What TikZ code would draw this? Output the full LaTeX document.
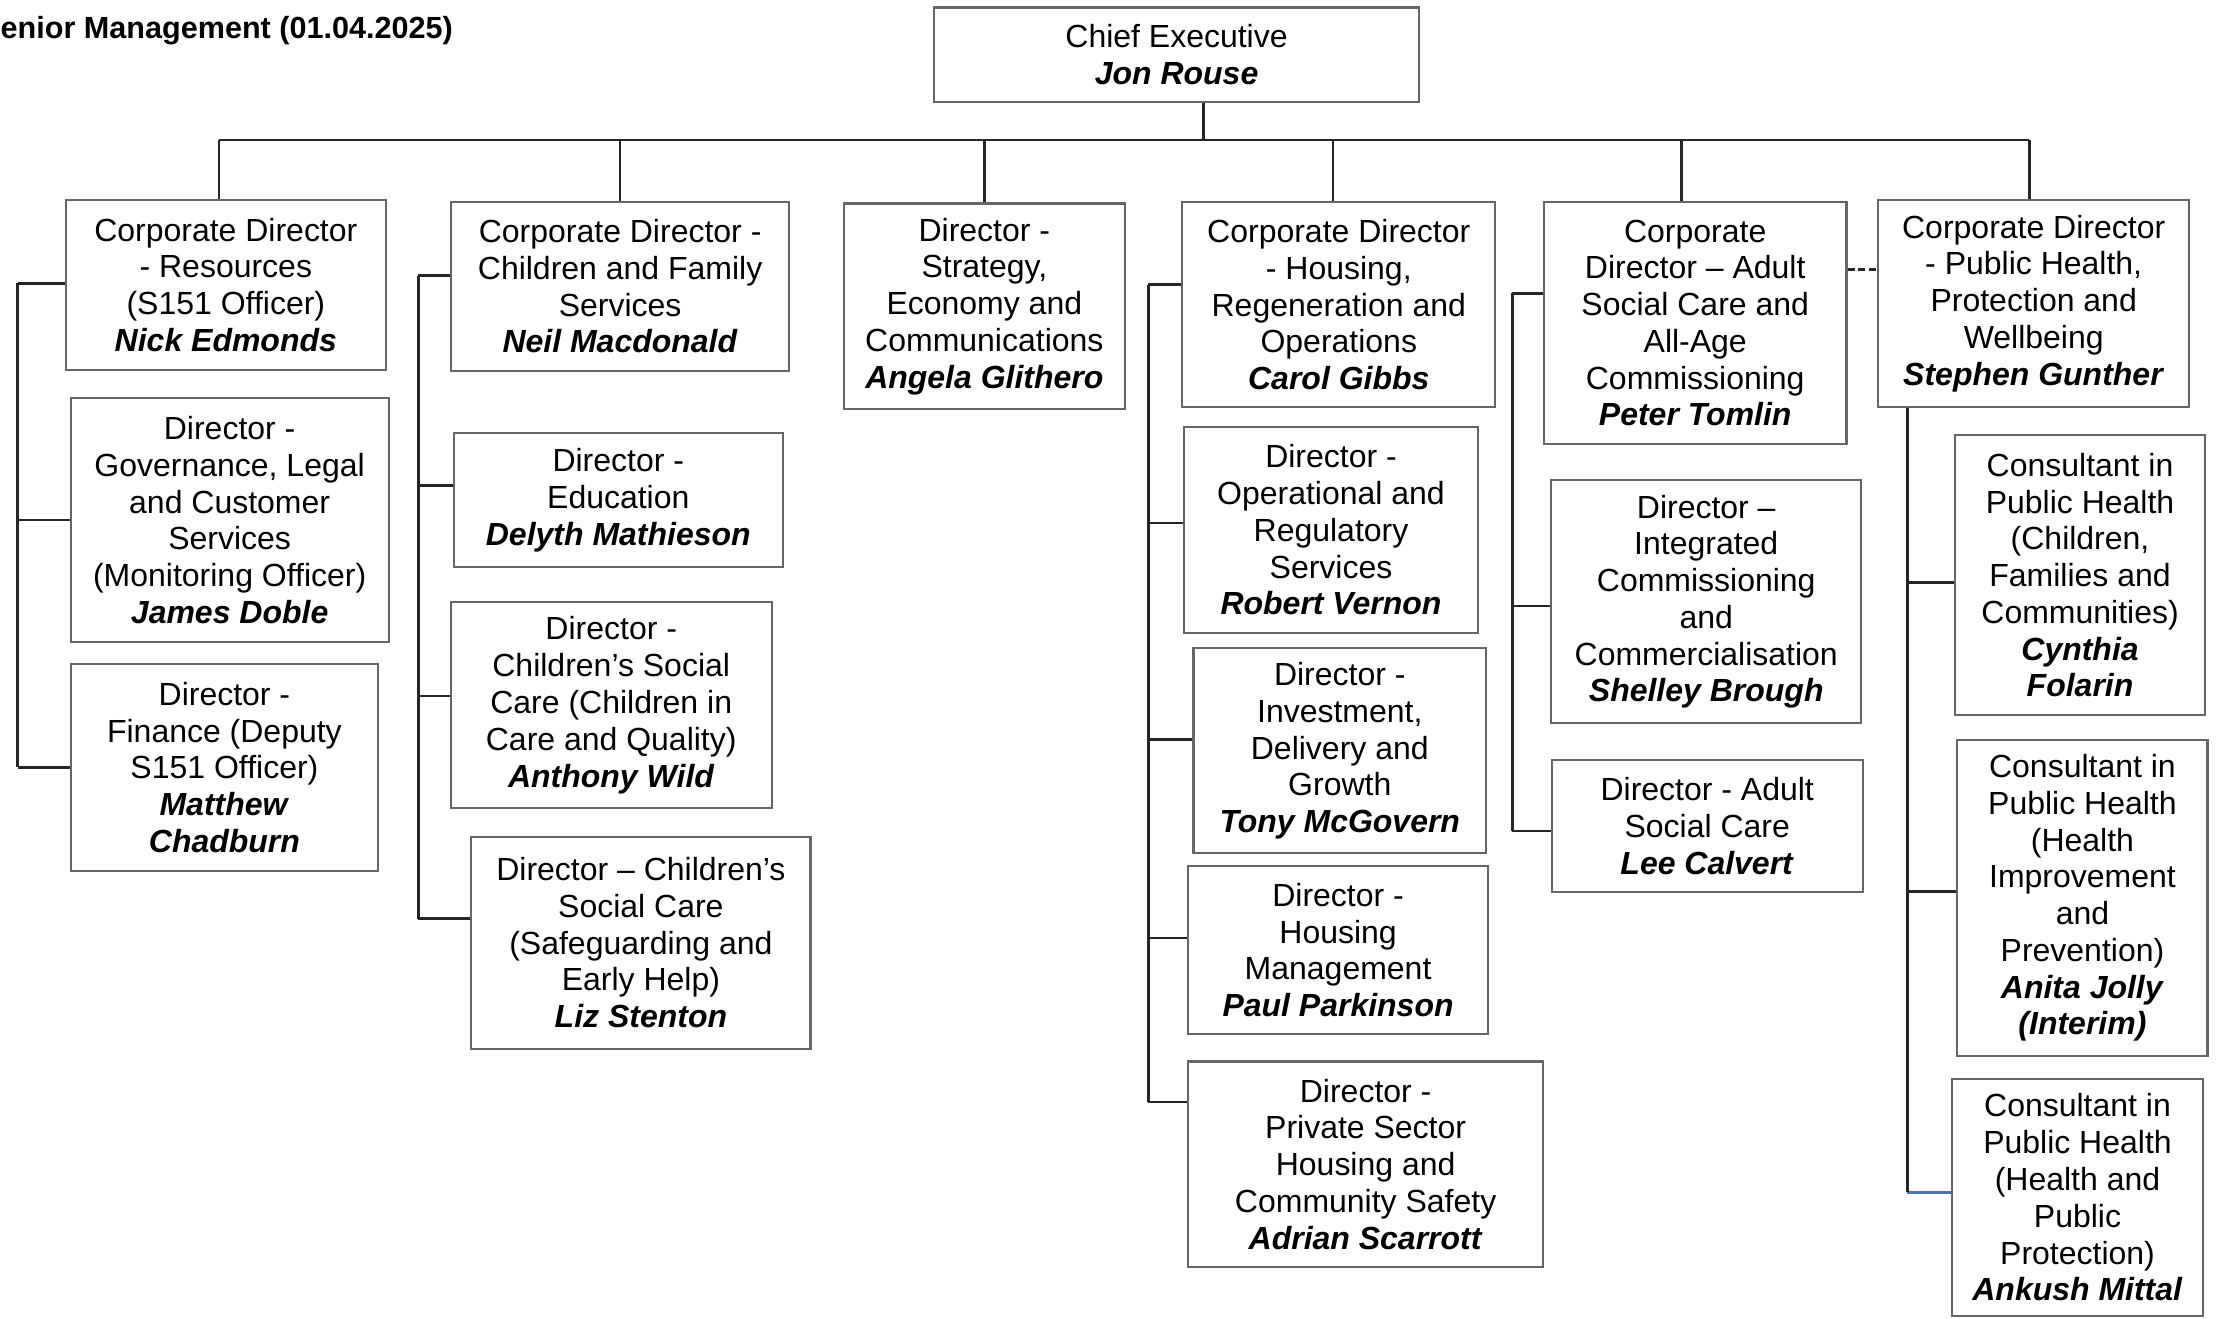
\documentclass[tikz,border=0pt]{standalone}
\usepackage{fontspec}
\setmainfont{Liberation Sans}
\usetikzlibrary{calc}
\definecolor{stubblue}{RGB}{68,114,196}
\newcommand{\px}{0.1413mm}
\newcommand{\who}[1]{\textbf{\textit{#1}}}

\begin{document}
\begin{tikzpicture}[x=0.1413mm, y=-0.1413mm,
  post/.style={draw=black!60, line width=0.6pt, align=center, inner sep=0pt,
    font=\fontsize{9.1}{10.46}\selectfont},
  link/.style={draw=black!85, line width=0.75pt}]
\useasboundingbox (0,0) rectangle (1568,933);

\node[anchor=west, inner sep=0pt, font=\fontsize{8.7}{10}\selectfont\bfseries] (title) at (0,22) {enior Management (01.04.2025)};

\node[post, minimum width=343*\px, minimum height=67*\px] (ce) at (832.5,38.8) {Chief Executive\\\who{Jon Rouse}};

\node[post, minimum width=226.5*\px, minimum height=120*\px] (a1) at (159.8,201.5) {Corporate Director\\- Resources\\(S151 Officer)\\\who{Nick Edmonds}};
\node[post, minimum width=225*\px, minimum height=172.3*\px] (a2) at (162.5,367.9) {Director -\\Governance, Legal\\and Customer\\Services\\(Monitoring Officer)\\\who{James Doble}};
\node[post, minimum width=217.5*\px, minimum height=146*\px] (a3) at (158.8,543) {Director -\\Finance (Deputy\\S151 Officer)\\\who{Matthew}\\\who{Chadburn}};

\node[post, minimum width=239.5*\px, minimum height=119.6*\px] (b1) at (438.8,202.5) {Corporate Director -\\Children and Family\\Services\\\who{Neil Macdonald}};
\node[post, minimum width=233*\px, minimum height=94.4*\px] (b2) at (437.5,353.8) {Director -\\Education\\\who{Delyth Mathieson}};
\node[post, minimum width=227*\px, minimum height=146*\px] (b3) at (432.5,499) {Director -\\Children’s Social\\Care (Children in\\Care and Quality)\\\who{Anthony Wild}};
\node[post, minimum width=240*\px, minimum height=150*\px] (b4) at (453.5,667) {Director – Children’s\\Social Care\\(Safeguarding and\\Early Help)\\\who{Liz Stenton}};

\node[post, minimum width=199*\px, minimum height=145.6*\px] (c1) at (696.5,216.8) {Director -\\Strategy,\\Economy and\\Communications\\\who{Angela Glithero}};

\node[post, minimum width=221.4*\px, minimum height=145.5*\px] (d1) at (947.3,215.5) {Corporate Director\\- Housing,\\Regeneration and\\Operations\\\who{Carol Gibbs}};
\node[post, minimum width=208.5*\px, minimum height=146*\px] (d2) at (941.8,375) {Director -\\Operational and\\Regulatory\\Services\\\who{Robert Vernon}};
\node[post, minimum width=207*\px, minimum height=145*\px] (d3) at (948,531.2) {Director -\\Investment,\\Delivery and\\Growth\\\who{Tony McGovern}};
\node[post, minimum width=212.4*\px, minimum height=119*\px] (d4) at (946.8,672.3) {Director -\\Housing\\Management\\\who{Paul Parkinson}};
\node[post, minimum width=251.4*\px, minimum height=145.3*\px] (d5) at (966.3,823.7) {Director -\\Private Sector\\Housing and\\Community Safety\\\who{Adrian Scarrott}};

\node[post, minimum width=214*\px, minimum height=171.5*\px] (e1) at (1199.5,228.5) {Corporate\\Director – Adult\\Social Care and\\All-Age\\Commissioning\\\who{Peter Tomlin}};
\node[post, minimum width=219.4*\px, minimum height=172*\px] (e2) at (1207.3,425.8) {Director –\\Integrated\\Commissioning\\and\\Commercialisation\\\who{Shelley Brough}};
\node[post, minimum width=220*\px, minimum height=93.2*\px] (e3) at (1208,584.4) {Director - Adult\\Social Care\\\who{Lee Calvert}};

\node[post, minimum width=220*\px, minimum height=146.3*\px] (f1) at (1439,214.7) {Corporate Director\\- Public Health,\\Protection and\\Wellbeing\\\who{Stephen Gunther}};
\node[post, minimum width=176.5*\px, minimum height=198*\px] (f2) at (1471.8,407) {Consultant in\\Public Health\\(Children,\\Families and\\Communities)\\\who{Cynthia}\\\who{Folarin}};
\node[post, minimum width=177*\px, minimum height=223.6*\px] (f3) at (1473.5,635.4) {Consultant in\\Public Health\\(Health\\Improvement\\and\\Prevention)\\\who{Anita Jolly}\\\who{(Interim)}};
\node[post, minimum width=177*\px, minimum height=167.5*\px] (f4) at (1470,847.3) {Consultant in\\Public Health\\(Health and\\Public\\Protection)\\\who{Ankush Mittal}};

\coordinate (bus) at (0,99);
\coordinate (sa) at (12.5,0);
\coordinate (sb) at (296,0);
\coordinate (sd) at (812.5,0);
\coordinate (se) at (1070,0);
\coordinate (sf) at (1349.5,0);

\draw[link] ($(ce.south)+(19,0)$) coordinate (ce-drop) -- (ce-drop |- bus);
\foreach \n/\dx in {a1/-4.8, b1/0, c1/0, d1/-4, e1/-9.5, f1/-3}
  \draw[link] ($(\n.north)+(\dx,0)$) coordinate (\n-top) -- (\n-top |- bus);
\draw[link] (a1-top |- bus) -- (f1-top |- bus);

\foreach \n/\dy/\s in {a1/-1/sa, a2/0/sa, a3/0/sa,
    b1/-7.5/sb, b2/-10.5/sb, b3/-6.5/sb, b4/-17/sb,
    d1/-14/sd, d2/-5/sd, d3/-8/sd, d4/-8.5/sd, d5/-44/sd,
    e1/-21/se, e2/3/se, e3/3.6/se, f2/5/sf, f3/-4.4/sf}
  \draw[link] ($(\n.west)+(0,\dy)$) coordinate (\n-s) -- (\n-s -| \s);
\draw[stubblue, line width=0.9pt] ($(f4.west)+(0,-3.8)$) coordinate (f4-s) -- (f4-s -| sf);

\draw[link] (a1-s -| sa) -- (a3-s -| sa);
\draw[link] (b1-s -| sb) -- (b4-s -| sb);
\draw[link] (d1-s -| sd) -- (d5-s -| sd);
\draw[link] (e1-s -| se) -- (e3-s -| se);
\draw[link] (f1.south -| sf) -- (f4-s -| sf);

\draw[link, dash pattern=on 2pt off 1pt] ($(e1.east)+(0,-38)$) coordinate (e1-dash) -- (e1-dash -| f1.west);
\end{tikzpicture}
\end{document}
